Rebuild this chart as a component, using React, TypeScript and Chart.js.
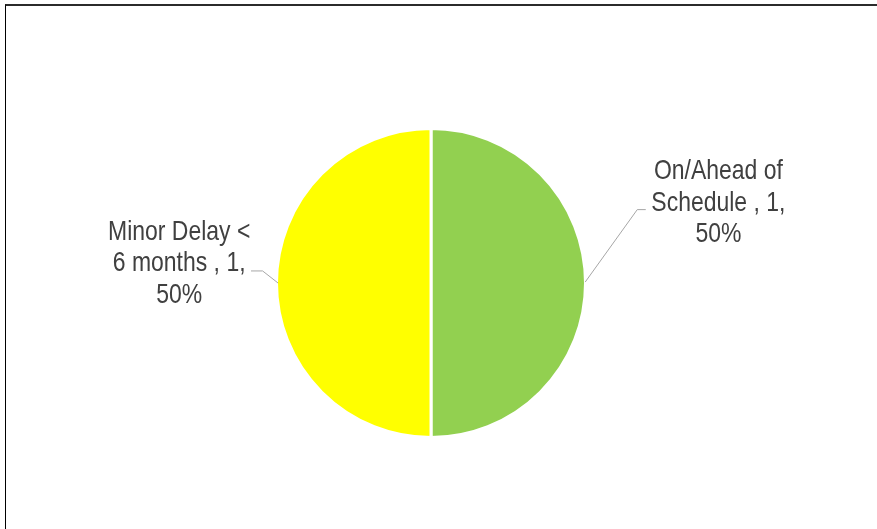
import React, { useEffect, useRef } from "react";
import { Chart, registerables } from "chart.js";

Chart.register(...registerables);

const categories = ["On/Ahead of Schedule", "Minor Delay < 6 months"];
const values = [1, 1];
const percents = ["50%", "50%"];
const colors = ["#92D050", "#FFFF00"];
const labelLines = [
  ["On/Ahead of", "Schedule , 1,", "50%"],
  ["Minor Delay <", "6 months , 1,", "50%"],
];

const labelPlugin = {
  id: "pieLabels",
  afterDraw(chart: any) {
    const meta = chart.getDatasetMeta(0);
    const ctx = chart.ctx as CanvasRenderingContext2D;
    meta.data.forEach((arc: any, i: number) => {
      const { x, y, outerRadius: r } = arc.getProps(["x", "y", "outerRadius"], true);
      const right = i === 0;
      const lines = labelLines[i];
      // leader line
      ctx.save();
      ctx.strokeStyle = "#A6A6A6";
      ctx.lineWidth = 1;
      ctx.beginPath();
      if (right) {
        ctx.moveTo(x + r * 0.998, y - r * 0.006);
        ctx.lineTo(x + r * 1.335, y - r * 0.475);
        ctx.lineTo(x + r * 1.39, y - r * 0.475);
      } else {
        ctx.moveTo(x - r * 0.99, y);
        ctx.lineTo(x - r * 1.09, y - r * 0.078);
        ctx.lineTo(x - r * 1.165, y - r * 0.078);
      }
      ctx.stroke();
      ctx.restore();
      // text
      const cx = right ? x + r * 1.86 : x - r * 1.63;
      const baseY = right ? y - r * 0.67 : y - r * 0.28;
      ctx.save();
      ctx.fillStyle = "#404040";
      ctx.font = '28px "Liberation Sans", Arial, sans-serif';
      ctx.textAlign = "center";
      ctx.textBaseline = "alphabetic";
      lines.forEach((t, k) => {
        ctx.save();
        ctx.translate(cx, baseY + k * 31.5);
        ctx.scale(0.82, 1);
        ctx.fillText(t, 0, 0);
        ctx.restore();
      });
      ctx.restore();
    });
  },
};

export default function App() {
  const ref = useRef<HTMLCanvasElement>(null);
  useEffect(() => {
    if (!ref.current) return;
    const chart = new Chart(ref.current, {
      type: "pie",
      data: {
        labels: categories.map((c, i) => `${c}, ${values[i]}, ${percents[i]}`),
        datasets: [
          {
            data: values,
            backgroundColor: colors,
            borderColor: "#FFFFFF",
            borderWidth: 3,
          },
        ],
      },
      options: {
        animation: false,
        responsive: false,
        maintainAspectRatio: false,
        layout: { padding: { left: 275, right: 290, top: 127, bottom: 90 } },
        plugins: {
          legend: { display: false },
          tooltip: { enabled: false },
        },
      },
      plugins: [labelPlugin],
    });
    return () => chart.destroy();
  }, []);
  return (
    <div style={{ position: "fixed", left: 0, top: 0, width: 877, height: 529, background: "#fff", overflow: "hidden" }}>
      <div
        style={{
          position: "absolute",
          left: 5,
          top: 4,
          right: 0,
          bottom: 0,
          borderTop: "2px solid #2B2B2B",
          borderLeft: "1px solid #000",
        }}
      />
      <canvas ref={ref} width={877} height={529} style={{ position: "absolute", left: 0, top: 0 }} />
    </div>
  );
}
